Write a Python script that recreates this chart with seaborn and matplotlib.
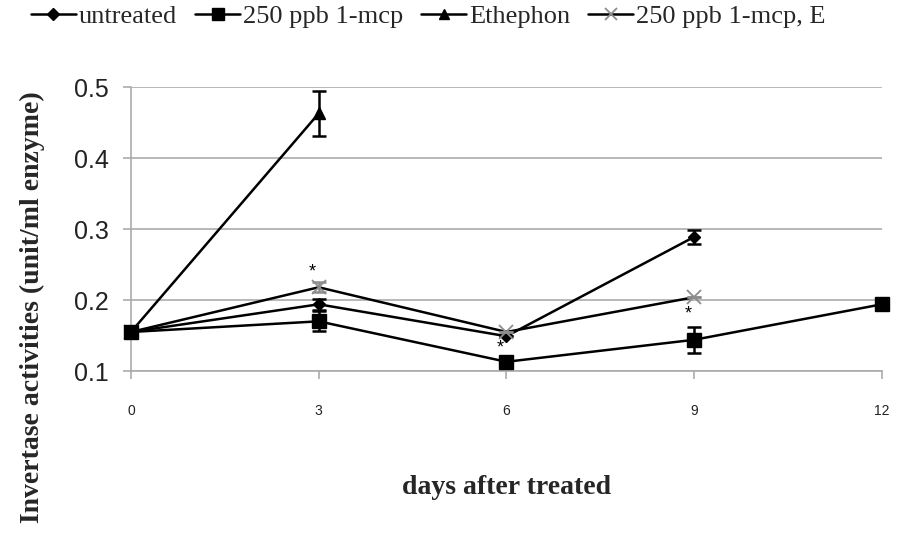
import matplotlib
matplotlib.use("Agg")
import matplotlib.pyplot as plt
import seaborn as sns
import pandas as pd

# Invertase activity (unit/ml enzyme) by days after treatment
untreated_days = [0, 3, 6, 9]
untreated_vals = [0.155, 0.194, 0.149, 0.289]
untreated_err = [0.0, 0.008, 0.0, 0.010]

mcp_days = [0, 3, 6, 9, 12]
mcp_vals = [0.155, 0.170, 0.113, 0.144, 0.194]
mcp_err = [0.0, 0.014, 0.0, 0.018, 0.0]

eth_days = [0, 3]
eth_vals = [0.155, 0.463]
eth_err = [0.0, 0.032]

mcp_e_days = [0, 3, 6, 9]
mcp_e_vals = [0.155, 0.218, 0.155, 0.204]
mcp_e_err = [0.0, 0.007, 0.0, 0.0]

series_names = ["untreated", "250 ppb 1-mcp", "Ethephon", "250 ppb 1-mcp, E"]

# significance stars: (day, y position)
star_days = [3, 6, 9]
star_y = [0.240, 0.132, 0.180]

x_ticks = [0, 3, 6, 9, 12]
y_ticks = [0.1, 0.2, 0.3, 0.4, 0.5]

sns.set_theme(style="white")
plt.rcParams["font.family"] = ["Liberation Sans", "DejaVu Sans"]

fig = plt.figure(figsize=(8.99, 5.38), dpi=100)
ax = fig.add_axes([0.1457, 0.3104, 0.981 - 0.1457, 0.838 - 0.3104])

styles = [
    dict(marker="D", mfc="black", mec="black", ms=6.5, z=4),
    dict(marker="s", mfc="black", mec="black", ms=10, z=6),
    dict(marker="^", mfc="black", mec="black", ms=8, z=4),
    dict(marker="x", mfc="#8c8c8c", mec="#8c8c8c", ms=10, mew=1.3, z=5),
]
data = [
    (untreated_days, untreated_vals, untreated_err),
    (mcp_days, mcp_vals, mcp_err),
    (eth_days, eth_vals, eth_err),
    (mcp_e_days, mcp_e_vals, mcp_e_err),
]

handles = []
for name, (d, v, e), st in zip(series_names, data, styles):
    df = pd.DataFrame({"day": d, "val": v})
    sns.lineplot(data=df, x="day", y="val", ax=ax, color="black", lw=1.8,
                 marker=st["marker"], markersize=st["ms"],
                 markerfacecolor=st["mfc"], markeredgecolor=st["mec"],
                 markeredgewidth=st.get("mew", 1.0), zorder=st["z"],
                 clip_on=False)
    ecol = "#8c8c8c" if name == "250 ppb 1-mcp, E" else "black"
    ax.errorbar(d, v, yerr=e, fmt="none", ecolor=ecol, elinewidth=1.8,
                capsize=5, capthick=1.8, zorder=st["z"])
    h, = ax.plot([], [], color="black", lw=1.8, marker=st["marker"],
                 markersize=st["ms"] * 0.9, markerfacecolor=st["mfc"],
                 markeredgecolor=st["mec"], markeredgewidth=st.get("mew", 1.0))
    handles.append(h)

for sx, sy in zip(star_days, star_y):
    ax.text(sx - 0.1, sy, "*", ha="center", va="center", fontsize=13, color="black")

ax.set_xlim(0, 12)
ax.set_ylim(0.1, 0.5)
ax.set_xticks(x_ticks)
ax.set_xticklabels([str(t) for t in x_ticks], fontsize=10)
ax.set_yticks(y_ticks)
ax.set_yticklabels([f"{t:.1f}" for t in y_ticks], fontsize=18)
ax.yaxis.grid(True, color="#ababab", lw=1.2)
ax.xaxis.grid(False)
ax.set_axisbelow(True)
for side in ["top", "right"]:
    ax.spines[side].set_visible(False)
for side in ["left", "bottom"]:
    ax.spines[side].set_color("#ababab")
    ax.spines[side].set_linewidth(1.2)
ax.tick_params(axis="both", which="both", direction="out", length=6, width=1.2,
               color="#ababab", labelcolor="#222222", left=True, bottom=True)
ax.tick_params(axis="x", pad=18)
ax.tick_params(axis="y", pad=10)
ax.set_xlabel("")
ax.set_ylabel("")

fig.text(0.564, 0.094, "days after treated", ha="center", va="center",
         fontsize=20, fontweight="bold", family=["Liberation Serif", "DejaVu Serif"])
fig.text(0.036, 0.43, "Invertase activities (unit/ml enzyme)", ha="center",
         va="center", rotation=90, fontsize=20, fontweight="bold",
         family=["Liberation Serif", "DejaVu Serif"])

fig.legend(handles, series_names, loc="upper left", bbox_to_anchor=(0.008, 1.035),
           ncol=4, frameon=False, handlelength=1.7, handletextpad=0.1,
           columnspacing=0.7, prop={"family": "Liberation Serif", "size": 19})

fig.savefig("out.png", dpi=100)
